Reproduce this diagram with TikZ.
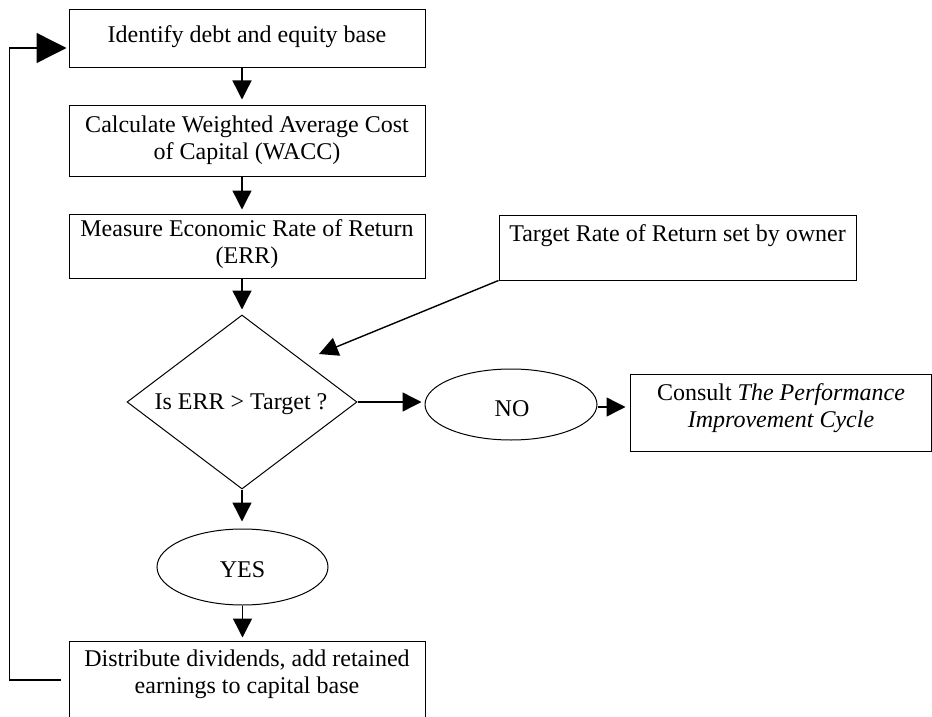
\documentclass[tikz,border=0pt]{standalone}
\usepackage{fontspec}
\setmainfont{Liberation Serif}
\usetikzlibrary{shapes.geometric,arrows.meta,calc}
\begin{document}
\begin{tikzpicture}[x=1pt,y=-1pt,
  box/.style={draw, line width=1pt, rectangle, inner sep=0pt},
  shp/.style={draw, line width=1pt, inner sep=0pt},
  txt/.style={inner sep=0pt, font=\fontsize{24}{27}\selectfont},
  mtxt/.style={txt, align=center, anchor=north},
  conn/.style={line width=1.4pt, -{Triangle[length=19pt,width=19pt]}},
]
\clip (0,0) rectangle (932,717);
% boxes
\node[box, minimum width=356pt, minimum height=58pt] (b1) at (247,39) {};
\node[box, minimum width=356pt, minimum height=71pt] (b2) at (247,140.5) {};
\node[box, minimum width=356pt, minimum height=64pt] (b3) at (247,246) {};
\node[box, minimum width=357pt, minimum height=65pt] (b4) at (677.5,247.5) {};
\node[box, minimum width=301pt, minimum height=77pt] (b5) at (780.5,412.5) {};
\node[box, minimum width=356pt, minimum height=78pt] (b6) at (247,680) {};
% decision and ellipses
\node[shp, diamond, minimum width=230pt, minimum height=174pt] (d) at (242,402) {};
\node[shp, ellipse, minimum width=172pt, minimum height=71pt] (no) at (511,404.5) {};
\node[shp, ellipse, minimum width=171pt, minimum height=76pt] (yes) at (242.5,567) {};
% texts
\node[txt, anchor=base] (t1) at (247,42.5) {Identify debt and equity base};
\node[mtxt] (t2) at (247,113.1) {\strut Calculate Weighted Average Cost\\\strut of Capital (WACC)};
\node[mtxt] (t3) at (247,217.6) {\strut Measure Economic Rate of Return\\\strut (ERR)};
\node[txt, anchor=base] (t4) at (677.5,241) {Target Rate of Return set by owner};
\node[mtxt] (t5) at (781,381.6) {\strut Consult \textit{The Performance}\\\strut\textit{Improvement Cycle}};
\node[mtxt] (t6) at (247,647.6) {\strut Distribute dividends, add retained\\\strut earnings to capital base};
\node[txt, anchor=base] (t7) at (241,409) {Is ERR > Target ?};
\node[txt, anchor=base] (t8) at (512,416) {NO};
\node[txt, anchor=base] (t9) at (242.5,577) {YES};
% connectors
\draw[conn, shorten >=5pt] (b1.south -| d.north) -- (b2.north -| d.north);
\draw[conn, shorten >=4pt] (b2.south -| d.north) -- (b3.north -| d.north);
\draw[conn, shorten >=5pt] (b3.south -| d.north) -- (d.north);
\draw[conn, shorten >=7pt] (d.south) -- (d.south |- yes.north);
\draw[conn, shorten >=3pt] (yes.south) -- (yes.south |- b6.north);
\draw[conn, shorten >=3pt] (d.east) -- (d.east -| no.west);
\draw[conn, shorten >=4pt] ([yshift=-2.5pt]no.east) -- ([yshift=-2.5pt]no.east -| b5.west);
\coordinate (tgt) at (319,354);
\draw[conn] (b4.south west) -- (tgt);
\draw[line width=1.4pt, -{Triangle[length=30pt,width=30pt]}, shorten <=8pt, shorten >=2pt]
  (b6.west) -- ++(-59,0) |- ([yshift=-9pt]b1.west);
\end{tikzpicture}
\end{document}
